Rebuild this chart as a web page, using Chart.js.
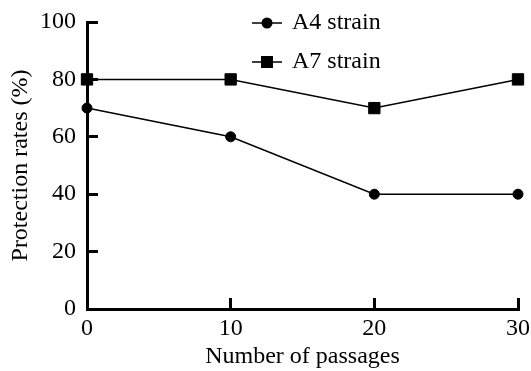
<!DOCTYPE html>
<html>
<head>
<meta charset="utf-8">
<script src="https://cdn.jsdelivr.net/npm/chart.js"></script>
<style>
  html, body { margin: 0; padding: 0; background: #fff; }
  #wrap { width: 531px; height: 371px; }
</style>
</head>
<body>
<div id="wrap"><canvas id="passage-chart" width="531" height="371"></canvas></div>
<script>
// values
const passages = [0, 10, 20, 30];
const a4Strain = [70, 60, 40, 40];
const a7Strain = [80, 80, 70, 80];
const seriesNames = ['A4 strain', 'A7 strain'];
const yTicks = [0, 20, 40, 60, 80, 100];
const xTicks = [0, 10, 20, 30];

const serif = "'Liberation Serif', 'Times New Roman', serif";

function toPoints(values) {
  return passages.map((p, i) => ({ x: p, y: values[i] }));
}

// legend drawn inside the plot: short line with the marker on it
const lineLegend = {
  id: 'lineLegend',
  afterDraw(chart) {
    const ctx = chart.ctx;
    const items = [
      { name: seriesNames[0], style: 'circle', y: 23 },
      { name: seriesNames[1], style: 'rect', y: 62 }
    ];
    ctx.save();
    items.forEach(it => {
      ctx.strokeStyle = '#000';
      ctx.fillStyle = '#000';
      ctx.lineWidth = 1.5;
      ctx.beginPath();
      ctx.moveTo(252, it.y);
      ctx.lineTo(282, it.y);
      ctx.stroke();
      ctx.beginPath();
      if (it.style === 'circle') {
        ctx.arc(267, it.y, 5.5, 0, Math.PI * 2);
      } else {
        ctx.rect(261, it.y - 6, 12, 12);
      }
      ctx.fill();
      ctx.font = '24px ' + serif;
      ctx.textBaseline = 'middle';
      ctx.textAlign = 'left';
      ctx.fillText(it.name, 292, it.y);
    });
    ctx.restore();
  }
};

// drop the label overflow padding so layout.padding alone places the plot
function noPad(s) {
  s.paddingTop = 0;
  s.paddingBottom = 0;
  s.paddingLeft = 0;
  s.paddingRight = 0;
}

function draw() {
  const ctx = document.getElementById('passage-chart').getContext('2d');
  new Chart(ctx, {
    type: 'line',
    data: {
      datasets: [{
        label: seriesNames[0],
        data: toPoints(a4Strain),
        borderColor: '#000',
        backgroundColor: '#000',
        borderWidth: 1.5,
        pointStyle: 'circle',
        pointRadius: 5,
        pointBorderWidth: 1,
        clip: false
      }, {
        label: seriesNames[1],
        data: toPoints(a7Strain),
        borderColor: '#000',
        backgroundColor: '#000',
        borderWidth: 1.5,
        pointStyle: 'rect',
        pointRadius: 8,
        pointBorderWidth: 1,
        clip: false
      }]
    },
    options: {
      responsive: false,
      animation: false,
      devicePixelRatio: 1,
      layout: { padding: { top: 22, right: 13, left: 0, bottom: 0 } },
      plugins: {
        legend: { display: false },
        tooltip: { enabled: false }
      },
      scales: {
        x: {
          type: 'linear',
          min: 0,
          max: 30,
          afterFit: s => { s.height = 62; noPad(s); },
          afterBuildTicks: s => { s.ticks = xTicks.map(v => ({ value: v })); },
          border: { color: '#000', width: 3 },
          grid: { drawOnChartArea: false, tickLength: -11, color: '#000', lineWidth: 3 },
          ticks: { color: '#000', padding: 16, maxRotation: 0, font: { family: serif, size: 24 } },
          title: {
            display: true,
            text: 'Number of passages',
            color: '#000',
            padding: { top: 0, bottom: 0 },
            font: { family: serif, size: 24 }
          }
        },
        y: {
          min: 0,
          max: 100,
          afterFit: s => { s.width = 87; noPad(s); },
          afterBuildTicks: s => { s.ticks = yTicks.map(v => ({ value: v })); },
          border: { color: '#000', width: 3 },
          grid: { drawOnChartArea: false, tickLength: -11, color: '#000', lineWidth: 3 },
          ticks: { color: '#000', padding: 22, font: { family: serif, size: 24 } },
          title: {
            display: true,
            text: 'Protection rates (%)',
            color: '#000',
            padding: { top: 6, bottom: 0 },
            font: { family: serif, size: 24 }
          }
        }
      }
    },
    plugins: [lineLegend]
  });
}

document.fonts.load("24px 'Liberation Serif'").then(draw, draw);
</script>
</body>
</html>
